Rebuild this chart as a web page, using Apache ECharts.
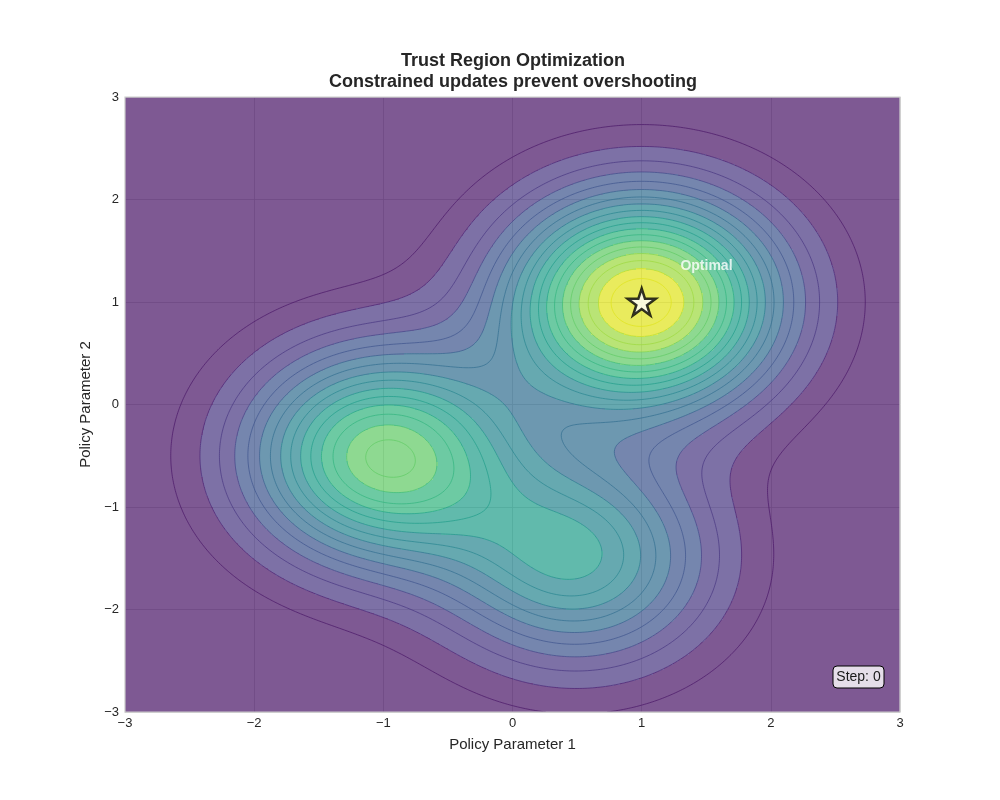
<!DOCTYPE html>
<html>
<head>
<meta charset="utf-8">
<title>Trust Region Optimization</title>
<script src="https://cdn.jsdelivr.net/npm/echarts@6/dist/echarts.min.js"></script>
<style>
html, body { margin: 0; padding: 0; background: #ffffff; }
#chart { width: 1000px; height: 800px; }
</style>
</head>
<body>
<div id="chart"></div>
<script>
// tick labels on both axes
const xTicks = [-3, -2, -1, 0, 1, 2, 3];
const yTicks = [-3, -2, -1, 0, 1, 2, 3];

// bumps of the objective surface (centre, height, spread)
const peakX = [1.0, -1.0, 0.5];
const peakY = [1.0, -0.5, -1.5];
const peakHeight = [1.0, 0.75, 0.5];
const peakSpread = [1.0, 1.0, 1.0];

// filled bands and contour lines
const fillLevels = [0.0, 0.1, 0.2, 0.3, 0.4, 0.5, 0.6, 0.7, 0.8, 0.9, 1.0];
const lineLevels = [0.05, 0.1, 0.15, 0.2, 0.25, 0.3, 0.35, 0.4, 0.45, 0.5,
	0.55, 0.6, 0.65, 0.7, 0.75, 0.8, 0.85, 0.9, 0.95];

// marker + annotation
const optimum = [1, 1];
const optimumLabel = "Optimal";
const optimumLabelAt = [1.3, 1.3];
const stepText = "Step: 0";

// viridis, 21 stops
const viridis = ["#440154", "#471365", "#482475", "#463480", "#414487", "#3b528b",
	"#355f8d", "#2f6c8e", "#2a788e", "#25848e", "#21918c", "#1e9c89", "#22a884",
	"#2fb47c", "#44bf70", "#5ec962", "#7ad151", "#9bd93c", "#bddf26", "#dfe318", "#fde725"];

function hexRgb(h) {
	return [parseInt(h.substr(1, 2), 16), parseInt(h.substr(3, 2), 16), parseInt(h.substr(5, 2), 16)];
}
function cmap(t, alpha) {
	t = Math.max(0, Math.min(1, t));
	let p = t * (viridis.length - 1);
	let i = Math.min(Math.floor(p), viridis.length - 2);
	let f = p - i;
	let a = hexRgb(viridis[i]), b = hexRgb(viridis[i + 1]);
	let c = a.map((v, k) => Math.round(v + (b[k] - v) * f));
	return "rgba(" + c[0] + "," + c[1] + "," + c[2] + "," + alpha + ")";
}

function objective(x, y) {
	let z = 0;
	for (let i = 0; i < peakX.length; i++) {
		let dx = x - peakX[i], dy = y - peakY[i];
		z += peakHeight[i] * Math.exp(-(dx * dx + dy * dy) / peakSpread[i]);
	}
	return z;
}

const lo = fillLevels[0], hi = fillLevels[fillLevels.length - 1];
const bandColors = [];
for (let k = 0; k < fillLevels.length - 1; k++) {
	bandColors.push(cmap(((fillLevels[k] + fillLevels[k + 1]) / 2 - lo) / (hi - lo), 0.7));
}
const lineColors = lineLevels.map(l => cmap((l - lo) / (hi - lo), 0.85));

function band(z) {
	for (let k = fillLevels.length - 2; k >= 0; k--) {
		if (z >= fillLevels[k]) return k;
	}
	return 0;
}

// filled contours: runs of equal band along each row
const NX = 620, NY = 492;
const cw = 6 / NX, ch = 6 / NY;
const fillRuns = [];
for (let j = 0; j < NY; j++) {
	let y0 = -3 + j * ch, y1 = -3 + (j + 1) * ch, yc = (y0 + y1) / 2;
	let start = 0;
	let cur = band(objective(-3 + cw / 2, yc));
	for (let i = 1; i <= NX; i++) {
		let b = i < NX ? band(objective(-3 + (i + 0.5) * cw, yc)) : -1;
		if (b !== cur) {
			fillRuns.push([-3 + start * cw, -3 + i * cw, y0, y1, cur]);
			start = i;
			cur = b;
		}
	}
}

// contour lines: marching squares
const GN = 301;
const gs = 6 / (GN - 1);
const grid = [];
for (let j = 0; j < GN; j++) {
	let row = [];
	for (let i = 0; i < GN; i++) row.push(objective(-3 + i * gs, -3 + j * gs));
	grid.push(row);
}
const lineSegs = [];
for (let k = 0; k < lineLevels.length; k++) {
	let L = lineLevels[k];
	for (let j = 0; j < GN - 1; j++) {
		for (let i = 0; i < GN - 1; i++) {
			let v0 = grid[j][i], v1 = grid[j][i + 1], v2 = grid[j + 1][i + 1], v3 = grid[j + 1][i];
			let x0 = -3 + i * gs, y0 = -3 + j * gs;
			let pts = [];
			// bottom, right, top, left
			if ((v0 > L) !== (v1 > L)) pts.push([x0 + gs * (L - v0) / (v1 - v0), y0]);
			else pts.push(null);
			if ((v1 > L) !== (v2 > L)) pts.push([x0 + gs, y0 + gs * (L - v1) / (v2 - v1)]);
			else pts.push(null);
			if ((v3 > L) !== (v2 > L)) pts.push([x0 + gs * (L - v3) / (v2 - v3), y0 + gs]);
			else pts.push(null);
			if ((v0 > L) !== (v3 > L)) pts.push([x0, y0 + gs * (L - v0) / (v3 - v0)]);
			else pts.push(null);
			let found = pts.filter(p => p);
			if (found.length === 2) {
				lineSegs.push([found[0][0], found[0][1], found[1][0], found[1][1], k]);
			} else if (found.length === 4) {
				let c = (v0 + v1 + v2 + v3) / 4;
				if ((c > L) === (v0 > L)) {
					lineSegs.push([pts[0][0], pts[0][1], pts[1][0], pts[1][1], k]);
					lineSegs.push([pts[2][0], pts[2][1], pts[3][0], pts[3][1], k]);
				} else {
					lineSegs.push([pts[3][0], pts[3][1], pts[0][0], pts[0][1], k]);
					lineSegs.push([pts[1][0], pts[1][1], pts[2][0], pts[2][1], k]);
				}
			}
		}
	}
}

// matplotlib style star
function starPath() {
	let d = "";
	for (let i = 0; i < 10; i++) {
		let r = i % 2 === 0 ? 1 : 0.381966;
		let a = Math.PI / 2 + i * Math.PI / 5;
		let x = (r * Math.cos(a)).toFixed(4), y = (-r * Math.sin(a)).toFixed(4);
		d += (i === 0 ? "M" : "L") + x + " " + y + " ";
	}
	return "path://" + d + "Z";
}

const minus = v => String(v).replace("-", "\u2212");
const fontFamily = "Liberation Sans, Arial, sans-serif";

const GRID = { left: 125, top: 97, width: 775, height: 615 };

let chart = echarts.init(document.getElementById("chart"));
let option = {
	animation: false,
	backgroundColor: "#ffffff",
	title: {
		text: "Trust Region Optimization\nConstrained updates prevent overshooting",
		left: 508,
		top: 46,
		textAlign: "center",
		textStyle: {
			fontFamily: fontFamily,
			fontSize: 18,
			fontWeight: "bold",
			color: "#262626",
			lineHeight: 21
		}
	},
	grid: {
		left: GRID.left,
		top: GRID.top,
		width: GRID.width,
		height: GRID.height
	},
	xAxis: {
		type: "value",
		min: xTicks[0],
		max: xTicks[xTicks.length - 1],
		interval: 1,
		name: "Policy Parameter 1",
		nameLocation: "middle",
		nameGap: 25,
		nameTextStyle: { fontFamily: fontFamily, fontSize: 15, color: "#262626" },
		axisLine: { show: false },
		axisTick: { show: false },
		axisLabel: { formatter: minus, fontFamily: fontFamily, fontSize: 13, color: "#262626", margin: 5 },
		splitLine: { lineStyle: { color: "#cccccc", width: 0.8 } }
	},
	yAxis: {
		type: "value",
		min: yTicks[0],
		max: yTicks[yTicks.length - 1],
		interval: 1,
		name: "Policy Parameter 2",
		nameLocation: "middle",
		nameGap: 25,
		nameTextStyle: { fontFamily: fontFamily, fontSize: 15, color: "#262626" },
		axisLine: { show: false },
		axisTick: { show: false },
		axisLabel: { formatter: minus, fontFamily: fontFamily, fontSize: 13, color: "#262626", margin: 6 },
		splitLine: { lineStyle: { color: "#cccccc", width: 0.8 } }
	},
	series: [
		{
			name: "fill",
			type: "custom",
			coordinateSystem: "cartesian2d",
			silent: true,
			progressive: 0,
			clip: true,
			encode: { x: [0, 1], y: [2, 3] },
			data: fillRuns,
			renderItem: function(params, api) {
				let a = api.coord([api.value(0), api.value(3)]);
				let b = api.coord([api.value(1), api.value(2)]);
				let x = Math.round(a[0]), y = Math.round(a[1]);
				return {
					type: "rect",
					shape: { x: x, y: y, width: Math.round(b[0]) - x, height: Math.round(b[1]) - y },
					style: { fill: bandColors[api.value(4)] }
				};
			}
		},
		{
			name: "lines",
			type: "custom",
			coordinateSystem: "cartesian2d",
			silent: true,
			progressive: 0,
			clip: true,
			z: 3,
			encode: { x: [0, 2], y: [1, 3] },
			data: lineSegs,
			renderItem: function(params, api) {
				let a = api.coord([api.value(0), api.value(1)]);
				let b = api.coord([api.value(2), api.value(3)]);
				return {
					type: "line",
					shape: { x1: a[0], y1: a[1], x2: b[0], y2: b[1] },
					style: { stroke: lineColors[api.value(4)], lineWidth: 0.8 }
				};
			}
		},
		{
			name: "optimum",
			type: "scatter",
			z: 5,
			symbol: starPath(),
			symbolSize: [28, 27],
			itemStyle: { color: "#ffffff", borderColor: "#000000", borderWidth: 2.5 },
			data: [optimum]
		},
		{
			name: "label",
			type: "scatter",
			z: 6,
			symbolSize: 0,
			silent: true,
			data: [optimumLabelAt],
			label: {
				show: true,
				position: [0, 0],
				offset: [0, 2],
				align: "left",
				verticalAlign: "bottom",
				formatter: optimumLabel,
				color: "#ffffff",
				fontFamily: fontFamily,
				fontWeight: "bold",
				fontSize: 14
			}
		}
	],
	graphic: [
		{
			type: "rect",
			z: 100,
			silent: true,
			shape: { x: GRID.left, y: GRID.top, width: GRID.width, height: GRID.height },
			style: { fill: null, stroke: "#cccccc", lineWidth: 1.25 }
		},
		{
			type: "rect",
			z: 100,
			silent: true,
			shape: { x: 833, y: 666, width: 51, height: 22, r: 4 },
			style: { fill: "rgba(255,255,255,0.8)", stroke: "#000000", lineWidth: 1 }
		},
		{
			type: "text",
			z: 101,
			silent: true,
			x: 858.5,
			y: 677,
			style: {
				text: stepText,
				align: "center",
				verticalAlign: "middle",
				fontFamily: fontFamily,
				fontSize: 14,
				fill: "#1a1a1a"
			}
		}
	]
};
chart.setOption(option);
</script>
</body>
</html>
